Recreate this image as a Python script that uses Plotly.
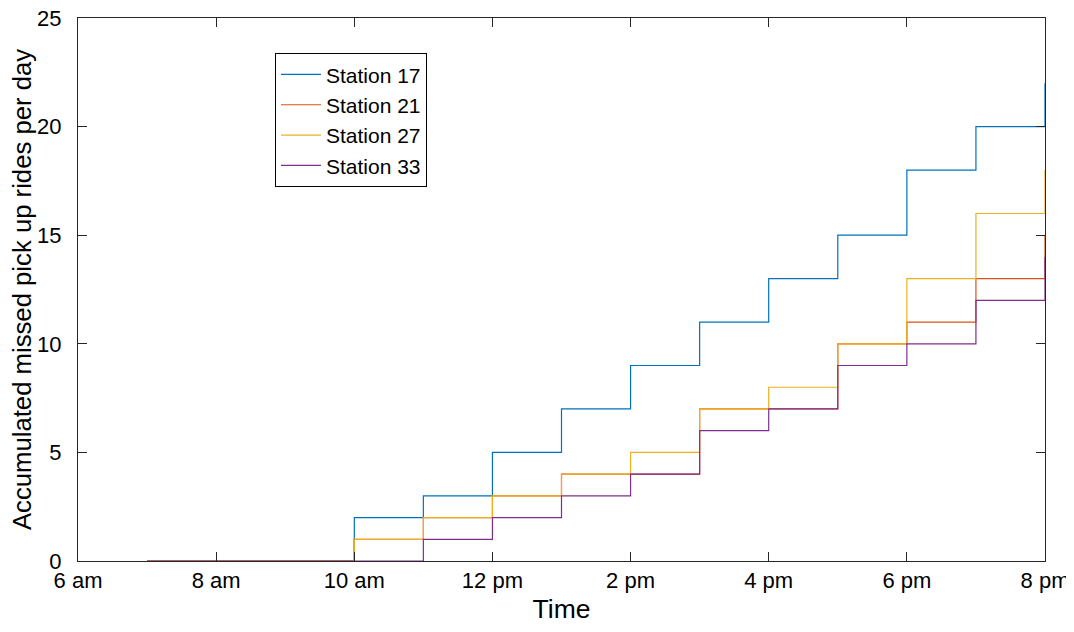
import plotly.graph_objects as go

hours = [7, 8, 9, 10, 11, 12, 13, 14, 15, 16, 17, 18, 19, 20]
station_17 = [0, 0, 0, 2, 3, 5, 7, 9, 11, 13, 15, 18, 20, 22]
station_21 = [0, 0, 0, 1, 2, 3, 4, 4, 7, 7, 10, 11, 13, 15]
station_27 = [0, 0, 0, 1, 2, 3, 4, 5, 7, 8, 10, 13, 16, 18]
station_33 = [0, 0, 0, 0, 1, 2, 3, 4, 6, 7, 9, 10, 12, 14]

series_names = ["Station 17", "Station 21", "Station 27", "Station 33"]
series_values = [station_17, station_21, station_27, station_33]
colors = ["#0072BD", "#D95319", "#EDB120", "#7E2F8E"]

tick_vals = [6, 8, 10, 12, 14, 16, 18, 20]
tick_text = ["6 am", "8 am", "10 am", "12 pm", "2 pm", "4 pm", "6 pm", "8 pm"]

fig = go.Figure()
for name, vals, c in zip(series_names, series_values, colors):
    fig.add_trace(go.Scatter(x=hours, y=vals, mode="lines", name=name,
                             line=dict(color=c, width=1.2, shape="hv")))

axis_common = dict(showline=True, linecolor="#262626", linewidth=1, mirror="allticks",
                   ticks="inside", ticklen=9, tickcolor="#262626", showgrid=False,
                   zeroline=False, automargin=False, ticklabeloverflow="allow",
                   tickfont=dict(size=22, color="black"))

fig.update_xaxes(range=[6, 20], tickvals=tick_vals, ticktext=tick_text,
                 title=dict(text="Time", font=dict(size=26.5, color="black"), standoff=15),
                 **axis_common)
fig.update_yaxes(range=[0, 25], tickvals=[0, 5, 10, 15, 20, 25],
                 ticklabelstandoff=11,
                 title=dict(text="Accumulated missed pick up rides per day",
                            font=dict(size=25.7, color="black"), standoff=1),
                 **axis_common)

# page body has an 8px default margin; size the figure so the page does not overflow
# and the plot area lands where the reference has it
fig.update_layout(
    width=1066, height=616,
    margin=dict(l=70, r=29, t=10, b=63),
    plot_bgcolor="white", paper_bgcolor="white",
    font=dict(family="Liberation Sans, Arial, sans-serif", color="black"),
    legend=dict(x=0.2037, y=0.935, xanchor="left", yanchor="top",
                bordercolor="black", borderwidth=1, bgcolor="white",
                font=dict(size=21, color="black"), tracegroupgap=0,
                itemwidth=40),
    showlegend=True,
)

fig.write_html("out.html")
